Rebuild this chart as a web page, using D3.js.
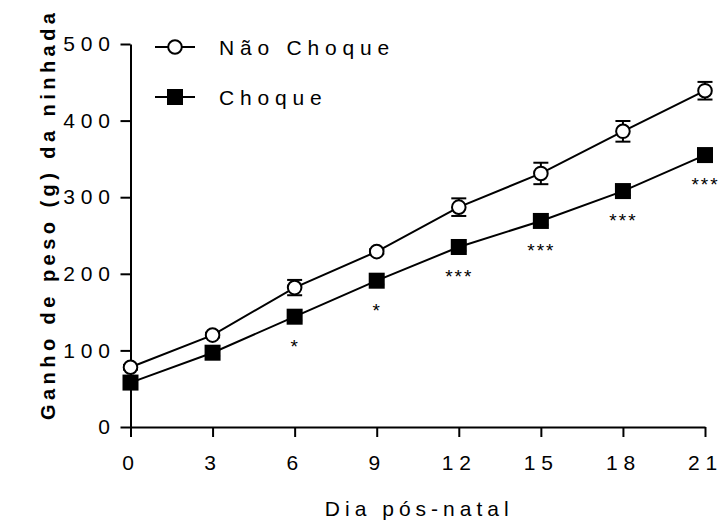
<!DOCTYPE html>
<html>
<head>
<meta charset="utf-8">
<script src="https://cdn.jsdelivr.net/npm/d3@7"></script>
<style>
  html, body { margin: 0; padding: 0; background: #fff; }
  svg { display: block; }
  text { font-family: "Liberation Sans", Arial, sans-serif; fill: #000; }
</style>
</head>
<body>
<svg id="chart" width="718" height="523"></svg>
<script>
// ---- data ----
const days = [0, 3, 6, 9, 12, 15, 18, 21];
const naoChoque = [78, 120, 182, 229, 287, 331, 386, 439];
const naoChoqueErr = [3, 3, 10, 3, 11.5, 14, 13.5, 11.5];
const choque = [58, 97, 144, 191, 235, 269, 308, 355];
const choqueErr = [4, 4, 5, 5, 5, 5, 5, 5];
const signif = ["", "", "*", "*", "***", "***", "***", "***"];
const xTicks = [0, 3, 6, 9, 12, 15, 18, 21];
const yTicks = [0, 100, 200, 300, 400, 500];
const seriesNames = ["Não Choque", "Choque"];
const xTitle = "Dia pós-natal";
const yTitle = "Ganho de peso (g) da ninhada";

const svg = d3.select("#chart");
const x = d3.scaleLinear().domain([0, 21]).range([130.5, 705]);
const y = d3.scaleLinear().domain([0, 500]).range([427, 44]);

const fs = 21, ls = 5.8;

// write a string with letter-spacing between characters only (no trailing gap)
function spaced(sel, str, spacing) {
  sel.text(null);
  const chars = Array.from(str);
  chars.forEach((c, i) => {
    sel.append("tspan").style("letter-spacing", (i < chars.length - 1 ? spacing : 0) + "px").text(c);
  });
}

// axes
const xAxis = svg.append("g").attr("transform", `translate(0,${y(0)})`)
  .call(d3.axisBottom(x).tickValues(xTicks).tickSize(10).tickSizeOuter(0).tickPadding(18));
const yAxis = svg.append("g").attr("transform", `translate(${x(0)},0)`)
  .call(d3.axisLeft(y).tickValues(yTicks).tickSize(10).tickSizeOuter(0).tickPadding(10.5));
[xAxis, yAxis].forEach(g => {
  g.select(".domain").attr("stroke", "#000").attr("stroke-width", 2);
  g.selectAll(".tick line").attr("stroke", "#000").attr("stroke-width", 2);
  g.selectAll(".tick text").attr("font-size", fs)
    .attr("font-family", "Liberation Sans, Arial, sans-serif").attr("fill", "#000")
    .each(function(d) { spaced(d3.select(this), String(d), ls); });
});
xAxis.selectAll(".tick text").attr("dx", -ls / 2);

// titles
const xt = svg.append("text").attr("x", (x(0) + x(21)) / 2 - 1).attr("y", 516)
  .attr("text-anchor", "middle").attr("font-size", fs);
spaced(xt, xTitle, 5);
const yt = svg.append("text").attr("transform", `translate(54.5,${(y(0) + y(500)) / 2 - 19}) rotate(-90)`)
  .attr("text-anchor", "middle").attr("font-size", 20).attr("font-weight", "bold");
spaced(yt, yTitle, 4.45);

const line = d3.line().x(d => x(d[0])).y(d => y(d[1]));
const nc = days.map((d, i) => [d, naoChoque[i], naoChoqueErr[i]]);
const ch = days.map((d, i) => [d, choque[i], choqueErr[i]]);

function errBars(data) {
  const g = svg.append("g").attr("stroke", "#000").attr("stroke-width", 2);
  data.forEach(d => {
    const cx = x(d[0]), y1 = y(d[1] + d[2]), y2 = y(d[1] - d[2]);
    g.append("line").attr("x1", cx).attr("x2", cx).attr("y1", y1).attr("y2", y2);
    g.append("line").attr("x1", cx - 7.5).attr("x2", cx + 7.5).attr("y1", y1).attr("y2", y1);
    g.append("line").attr("x1", cx - 7.5).attr("x2", cx + 7.5).attr("y1", y2).attr("y2", y2);
  });
}
errBars(nc); errBars(ch);

svg.append("path").datum(nc).attr("d", line).attr("fill", "none").attr("stroke", "#000").attr("stroke-width", 2);
svg.append("path").datum(ch).attr("d", line).attr("fill", "none").attr("stroke", "#000").attr("stroke-width", 2);

svg.append("g").selectAll("circle").data(nc).join("circle")
  .attr("cx", d => x(d[0])).attr("cy", d => y(d[1])).attr("r", 6.8)
  .attr("fill", "#fff").attr("stroke", "#000").attr("stroke-width", 2);
const sq = 16;
svg.append("g").selectAll("rect").data(ch).join("rect")
  .attr("x", d => x(d[0]) - sq / 2).attr("y", d => y(d[1]) - sq / 2)
  .attr("width", sq).attr("height", sq).attr("fill", "#000");

// significance
svg.append("g").selectAll("text").data(ch.map((d, i) => [d[0], d[1], signif[i]]).filter(d => d[2]))
  .join("text").attr("x", d => x(d[0]) - 0.5).attr("y", d => y(d[1]) + 36)
  .attr("text-anchor", "middle").attr("font-size", 19)
  .each(function(d) { spaced(d3.select(this), d[2], 2); });

// legend
const leg = svg.append("g");
const rows = [{name: seriesNames[0], yy: 47, type: "circle"}, {name: seriesNames[1], yy: 97, type: "square"}];
rows.forEach(r => {
  leg.append("line").attr("x1", 155).attr("x2", 195).attr("y1", r.yy).attr("y2", r.yy)
    .attr("stroke", "#000").attr("stroke-width", 2);
  if (r.type === "circle") {
    leg.append("circle").attr("cx", 175).attr("cy", r.yy).attr("r", 6.8)
      .attr("fill", "#fff").attr("stroke", "#000").attr("stroke-width", 2);
  } else {
    leg.append("rect").attr("x", 175 - 8).attr("y", r.yy - 8).attr("width", 16).attr("height", 16).attr("fill", "#000");
  }
  const t = leg.append("text").attr("x", 219).attr("y", r.yy).attr("dy", "0.36em").attr("font-size", fs);
  spaced(t, r.name, ls);
});
</script>
</body>
</html>
